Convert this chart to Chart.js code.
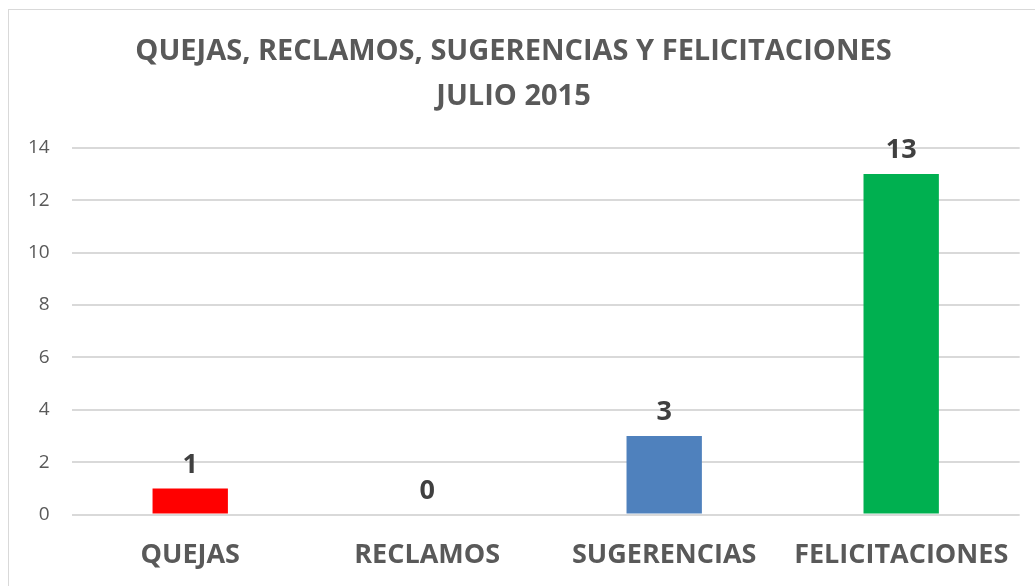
<!DOCTYPE html>
<html>
<head>
<meta charset="utf-8">
<script src="https://cdn.jsdelivr.net/npm/chart.js@4"></script>
<style>
  html, body { margin: 0; padding: 0; background: #fff; }
  #wrap { width: 1035px; height: 586px; }
</style>
</head>
<body>
<div id="wrap"><canvas id="chart" width="1035" height="586"></canvas></div>
<script>
const categories = ["QUEJAS", "RECLAMOS", "SUGERENCIAS", "FELICITACIONES"];
const values = [1, 0, 3, 13];
const barColors = ["#ff0000", "#ff0000", "#4f81bd", "#00b050"];
const titleLines = ["QUEJAS, RECLAMOS, SUGERENCIAS Y FELICITACIONES", "JULIO 2015"];

const fontFamily = "'Open Sans', 'DejaVu Sans', sans-serif";

// frame around the chart, like the office chart border
const framePlugin = {
  id: "frame",
  beforeDraw(chart) {
    const ctx = chart.ctx;
    ctx.save();
    ctx.fillStyle = "#fff";
    ctx.fillRect(0, 0, chart.width, chart.height);
    ctx.strokeStyle = "#d9d9d9";
    ctx.lineWidth = 1;
    ctx.strokeRect(8.5, 9.5, 1100, 700);
    ctx.restore();
  },
};

// value labels above the bars
const valueLabels = {
  id: "valueLabels",
  afterDatasetsDraw(chart) {
    const ctx = chart.ctx;
    const meta = chart.getDatasetMeta(0);
    ctx.save();
    ctx.font = "bold 27px " + fontFamily;
    ctx.fillStyle = "#404040";
    ctx.textAlign = "center";
    ctx.textBaseline = "bottom";
    meta.data.forEach((bar, i) => {
      ctx.fillText(values[i], bar.x, bar.y - 10);
    });
    ctx.restore();
  },
};

const ctx = document.getElementById("chart").getContext("2d");
const chart = new Chart(ctx, {
  type: "bar",
  data: {
    labels: categories,
    datasets: [
      {
        data: values,
        backgroundColor: barColors,
        barPercentage: 0.53,
        categoryPercentage: 0.6,
      },
    ],
  },
  options: {
    responsive: false,
    animation: false,
    devicePixelRatio: 1,
    layout: { padding: { left: 6, right: 14, top: 12, bottom: -11 } },
    plugins: {
      legend: { display: false },
      tooltip: { enabled: false },
      title: {
        display: true,
        text: titleLines,
        color: "#595959",
        font: { family: fontFamily, size: 29, weight: "bold", lineHeight: 1.55 },
        padding: { top: 17, bottom: 29 },
      },
    },
    scales: {
      x: {
        grid: { display: false, drawTicks: false },
        border: { display: false },
        ticks: {
          color: "#595959",
          font: { family: fontFamily, size: 27, weight: "bold" },
          padding: 25,
        },
      },
      y: {
        min: 0,
        max: 14,
        grid: { color: "#d9d9d9", lineWidth: 2, drawTicks: false },
        border: { display: false },
        ticks: {
          stepSize: 2,
          color: "#595959",
          font: { family: fontFamily, size: 19 },
          padding: 22,
        },
      },
    },
  },
  plugins: [framePlugin, valueLabels],
});
</script>
</body>
</html>
